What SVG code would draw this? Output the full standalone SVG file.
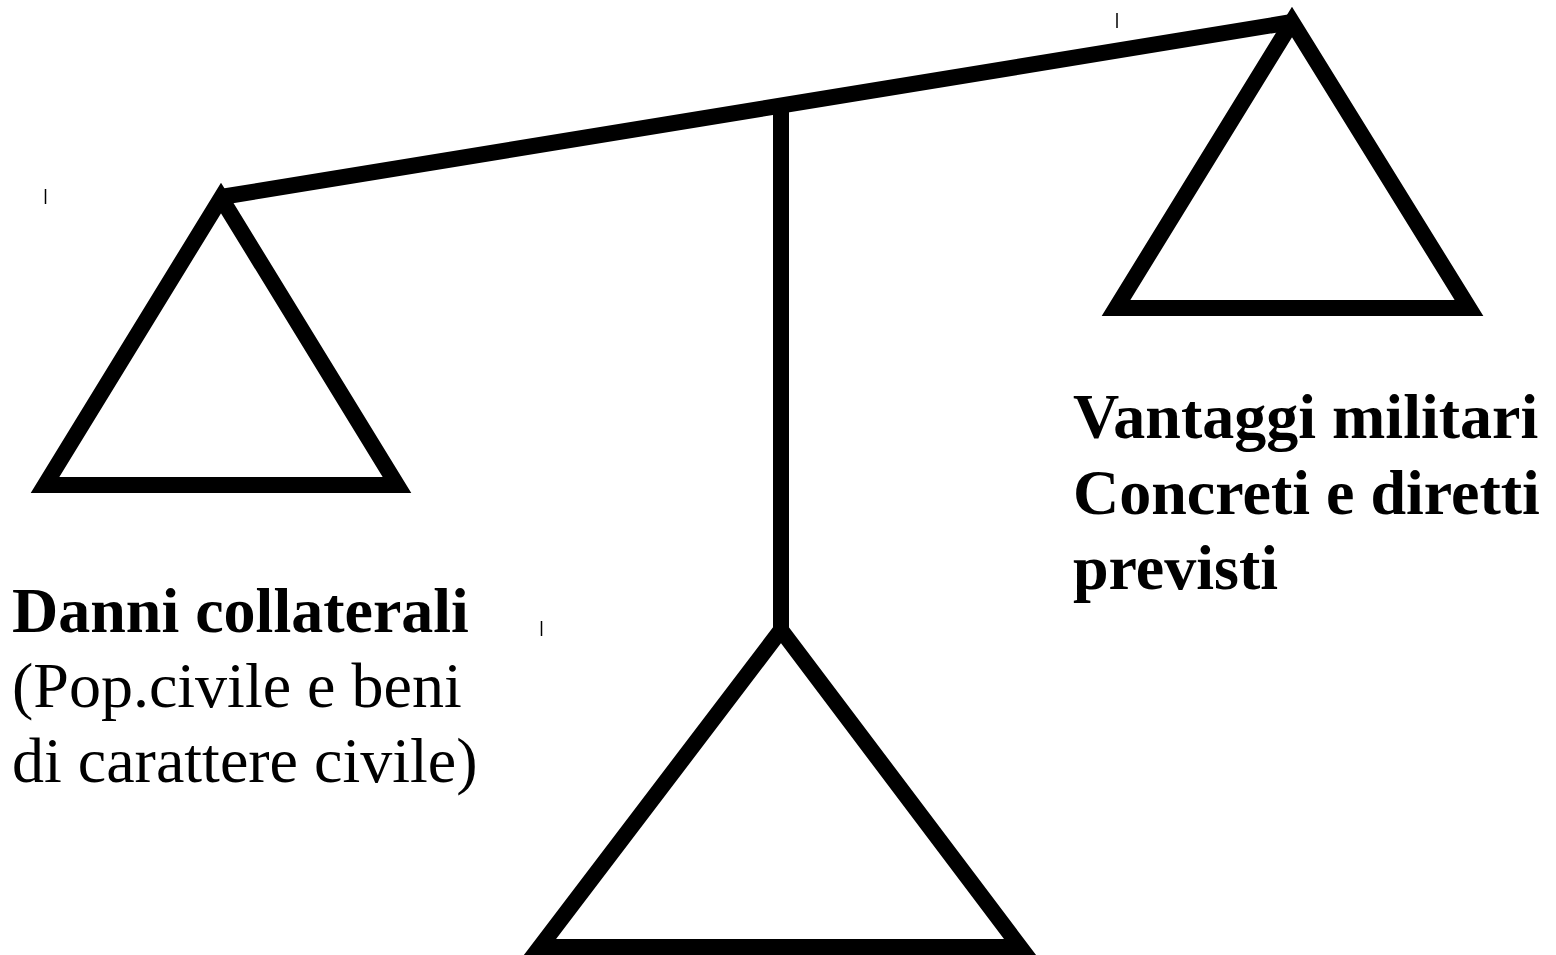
<svg xmlns="http://www.w3.org/2000/svg" width="1556" height="955" viewBox="0 0 1556 955">
<style>
.s{fill:none;stroke:#000;stroke-width:16;stroke-linejoin:miter;stroke-miterlimit:10}
.t{stroke:#000;stroke-width:1.5}
.b{font-family:"Liberation Serif","Times New Roman",serif;font-size:64px;font-weight:bold;fill:#000}
.r{font-family:"Liberation Serif","Times New Roman",serif;font-size:64px;fill:#000}
</style>
<rect width="1556" height="955" fill="#fff"/>
<g id="connectors">
<line class="s" x1="221" y1="197" x2="1292" y2="22"/>
<line class="s" x1="781" y1="110" x2="781" y2="630"/>
</g>
<g id="left-pan">
<polygon class="s" points="221,198 397,485 45,485"/>
</g>
<g id="right-pan">
<polygon class="s" points="1292,22 1469,308 1116,308"/>
</g>
<g id="base">
<polygon class="s" points="781,630 1020,947 540,947"/>
</g>
<g id="ticks">
<line class="t" x1="1117" y1="13" x2="1117" y2="28"/>
<line class="t" x1="45.5" y1="189" x2="45.5" y2="204"/>
<line class="t" x1="541.5" y1="621" x2="541.5" y2="636"/>
</g>
<g id="label-left">
<text class="b" x="12" y="632">Danni collaterali</text>
<text class="r" x="12" y="707">(Pop.civile e beni</text>
<text class="r" x="12" y="782">di carattere civile)</text>
</g>
<g id="label-right">
<text class="b" x="1073" y="438">Vantaggi militari</text>
<text class="b" x="1073" y="514">Concreti e diretti</text>
<text class="b" x="1073" y="589">previsti</text>
</g>
</svg>
